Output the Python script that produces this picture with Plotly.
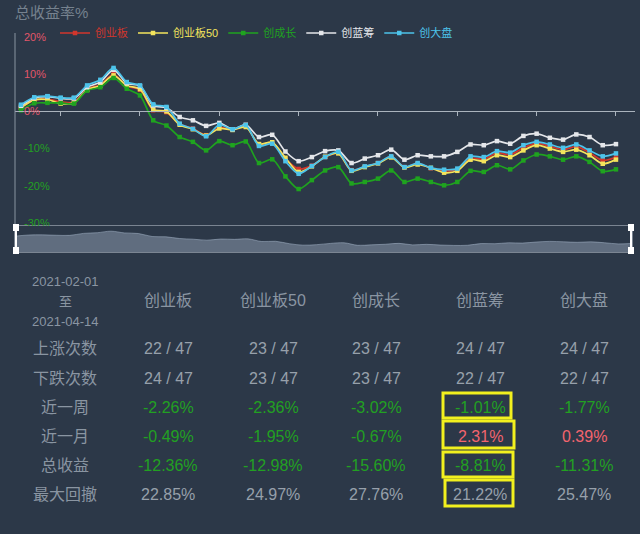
import plotly.graph_objects as go

# ---------------- data ----------------
day_index = list(range(46))
s_cyb = [1.0, 3.0, 3.3, 2.6, 2.4, 6.0, 7.2, 10.0, 6.8, 5.8, 0.3, -0.2, -3.4, -4.6, -6.4, -4.3, -4.9, -4.0, -8.9, -8.4,
         -12.8, -15.5, -14.6, -12.3, -11.2, -15.8, -14.9, -13.9, -12.2, -15.0, -14.0, -15.3, -16.0, -15.7, -12.6, -12.9,
         -11.2, -11.7, -9.8, -8.6, -9.4, -10.3, -9.5, -11.1, -13.2, -12.36]
s_cyb50 = [1.0, 3.1, 3.2, 2.1, 2.3, 5.8, 7.0, 9.7, 7.0, 6.0, 0.5, 0.0, -3.6, -4.8, -6.5, -4.6, -5.0, -4.2, -8.8, -8.3,
           -12.5, -16.3, -14.8, -12.2, -11.3, -16.0, -15.0, -14.0, -12.4, -15.1, -14.3, -15.2, -16.5, -16.0, -13.0, -13.4,
           -11.8, -12.3, -10.5, -9.1, -10.0, -10.9, -10.3, -11.8, -14.1, -12.98]
s_ccz = [0.3, 2.2, 2.3, 2.3, 2.1, 5.6, 6.5, 9.0, 6.1, 4.3, -2.4, -3.8, -6.9, -8.2, -10.5, -8.0, -9.1, -8.1, -13.9, -12.9,
         -17.5, -20.9, -18.5, -15.9, -15.0, -19.4, -19.0, -18.1, -15.9, -19.0, -18.1, -19.0, -19.9, -19.0, -16.0, -16.3,
         -14.5, -15.6, -13.2, -11.6, -12.1, -13.0, -12.1, -13.6, -16.1, -15.6]
s_clc = [1.5, 3.6, 4.0, 3.5, 3.5, 6.5, 7.9, 11.2, 7.6, 6.8, 1.6, 1.0, -1.5, -2.4, -3.9, -3.1, -4.8, -3.6, -6.9, -6.3,
         -10.8, -13.4, -12.3, -10.7, -10.5, -13.9, -12.7, -11.8, -10.3, -13.0, -11.8, -12.1, -12.1, -10.9, -8.9, -9.1,
         -8.0, -8.7, -6.6, -6.0, -7.1, -7.6, -6.2, -6.9, -9.1, -8.81]
s_cdp = [1.8, 3.8, 4.1, 3.7, 3.7, 7.0, 8.5, 11.7, 7.9, 7.0, 1.9, 1.2, -3.3, -4.7, -6.7, -3.6, -4.8, -3.7, -9.3, -8.7,
         -13.4, -16.8, -14.7, -12.3, -10.9, -15.9, -14.8, -13.9, -12.1, -15.0, -13.9, -15.2, -15.7, -15.4, -12.1, -12.3,
         -10.7, -11.1, -9.1, -8.2, -8.9, -9.8, -8.9, -10.5, -12.1, -11.31]

series_names = ["创业板", "创业板50", "创成长", "创蓝筹", "创大盘"]
series_values = [s_cyb, s_cyb50, s_ccz, s_clc, s_cdp]
series_colors = ["#d2362c", "#f3e45c", "#1fa31f", "#e4e6ea", "#4cc3ea"]

y_tick_vals = [20, 10, 0, -10, -20, -30]
x_tick_vals = [3, 9, 15, 21, 27, 33, 39, 45]

period_start = "2021-02-01"
period_mid = "至"
period_end = "2021-04-14"
row_labels = ["上涨次数", "下跌次数", "近一周", "近一月", "总收益", "最大回撤"]
total_days = 47
up_days = [22, 23, 23, 24, 24]
down_days = [24, 23, 23, 22, 22]
ret_week = [-2.26, -2.36, -3.02, -1.01, -1.77]
ret_month = [-0.49, -1.95, -0.67, 2.31, 0.39]
ret_total = [-12.36, -12.98, -15.60, -8.81, -11.31]
max_drawdown = [22.85, 24.97, 27.76, 21.22, 25.47]
highlight_rows = [2, 3, 4, 5]

# ---------------- layout helpers ----------------
W, H = 640, 534
BG = "#2c3848"
GRAY = "#8a95a2"
VAL_GRAY = "#97a0ab"
GREEN = "#22a022"
RED = "#f2646e"


def fx(px):
    return px / W


def fy(py):
    return 1 - py / H


# y scale: 0% at 111.4 px, 3.714 px per 1%
plot_top, plot_bot = 24, 232
yr = [-32.47, 23.53]
xr = [-0.454, 46.44]
y_dom = [fy(plot_bot), fy(plot_top)]
zero_pos = y_dom[0] + (0 - yr[0]) / (yr[1] - yr[0]) * (y_dom[1] - y_dom[0])

fig = go.Figure()

for name, vals, col in zip(series_names, series_values, series_colors):
    fig.add_trace(go.Scatter(
        x=day_index, y=vals, mode="lines+markers",
        name=f'<span style="color:{col}">{name}</span>',
        line=dict(color=col, width=1.7, shape="spline", smoothing=0.8),
        marker=dict(color=col, size=4.5, symbol="square"),
        xaxis="x", yaxis="y", hoverinfo="skip",
    ))

# data-zoom shadow (first series)
sh_lo = min(s_cyb) - 12
sh_hi = max(s_cyb) + 9.5
fig.add_trace(go.Scatter(x=day_index, y=[sh_lo] * len(day_index), mode="lines",
                         line=dict(width=0, color="rgba(0,0,0,0)"), showlegend=False,
                         xaxis="x2", yaxis="y2", hoverinfo="skip"))
fig.add_trace(go.Scatter(x=day_index, y=s_cyb, mode="lines", fill="tonexty",
                         fillcolor="rgba(160,175,195,0.45)",
                         line=dict(width=1, color="rgba(170,185,205,0.5)", shape="spline"),
                         showlegend=False, xaxis="x2", yaxis="y2", hoverinfo="skip"))

tick_text = []
for v in y_tick_vals:
    c = "#e2566a" if v >= 0 else GREEN
    tick_text.append(f'<span style="color:{c}">{v}%</span>')

shapes = []
# y axis line
shapes.append(dict(type="line", xref="paper", yref="paper", x0=fx(15), x1=fx(15), y0=fy(227), y1=fy(33),
                   line=dict(color="#8894a0", width=1)))
# slider box
sx0, sx1, sy0, sy1 = 15, 632, 226, 252
shapes.append(dict(type="rect", xref="paper", yref="paper", x0=fx(sx0), x1=fx(sx1), y0=fy(sy1), y1=fy(sy0),
                   line=dict(color="#c9d1db", width=1), fillcolor="rgba(105,120,142,0.45)", layer="below"))
for hx in (sx0 + 1, sx1 - 1):
    shapes.append(dict(type="line", xref="paper", yref="paper", x0=fx(hx), x1=fx(hx), y0=fy(sy1), y1=fy(sy0),
                       line=dict(color="#ffffff", width=2)))
    for hy0, hy1 in ((sy0 - 2, sy0 + 5), (sy1 - 5, sy1 + 2)):
        shapes.append(dict(type="rect", xref="paper", yref="paper", x0=fx(hx - 3), x1=fx(hx + 3),
                           y0=fy(hy1), y1=fy(hy0), line=dict(width=0), fillcolor="#ffffff"))

annotations = []
annotations.append(dict(text="总收益率%", x=fx(13), y=fy(13), xref="paper", yref="paper", xanchor="left",
                        yanchor="middle", showarrow=False, font=dict(size=15, color="#76828f")))

# table
col_x = [168, 273, 376, 480, 584]
label_x = 65
row_y = [348, 378, 407, 436, 465, 494]
FONT = "Liberation Sans, Arial, Noto Sans CJK SC, sans-serif"


def add_text(t, x, y, size, color):
    annotations.append(dict(text=t, x=fx(x), y=fy(y), xref="paper", yref="paper", xanchor="center",
                            yanchor="middle", showarrow=False, font=dict(size=size, color=color, family=FONT)))


add_text(period_start, label_x, 281, 13, GRAY)
add_text(period_mid, label_x, 301, 13, GRAY)
add_text(period_end, label_x, 321, 13, GRAY)
for name, cx in zip(series_names, col_x):
    add_text(name, cx, 300, 16, GRAY)
for lbl, ry in zip(row_labels, row_y):
    add_text(lbl, label_x, ry, 16, GRAY)


def pct_color(v):
    return RED if v > 0 else GREEN


for j, cx in enumerate(col_x):
    add_text(f"{up_days[j]} / {total_days}", cx, row_y[0], 16, VAL_GRAY)
    add_text(f"{down_days[j]} / {total_days}", cx, row_y[1], 16, VAL_GRAY)
    add_text(f"{ret_week[j]:.2f}%", cx, row_y[2], 16, pct_color(ret_week[j]))
    add_text(f"{ret_month[j]:.2f}%", cx, row_y[3], 16, pct_color(ret_month[j]))
    add_text(f"{ret_total[j]:.2f}%", cx, row_y[4], 16, pct_color(ret_total[j]))
    add_text(f"{max_drawdown[j]:.2f}%", cx, row_y[5], 16, VAL_GRAY)

# yellow highlight boxes
box_px = [(443, 511, 393, 418), (443, 514, 421, 448), (443, 513, 452, 477), (445, 513, 480, 506)]
for (bx0, bx1, by0, by1), r in zip(box_px, highlight_rows):
    shapes.append(dict(type="rect", xref="paper", yref="paper", x0=fx(bx0), x1=fx(bx1), y0=fy(by1), y1=fy(by0),
                       line=dict(color="#f2f01e", width=3), fillcolor="rgba(0,0,0,0)"))

fig.update_layout(
    width=W, height=H,
    margin=dict(l=0, r=0, t=0, b=0),
    paper_bgcolor=BG, plot_bgcolor=BG,
    font=dict(family=FONT, color=GRAY),
    showlegend=True,
    legend=dict(orientation="h", x=fx(55), y=fy(33), xanchor="left", yanchor="middle",
                bgcolor="rgba(0,0,0,0)", font=dict(size=11), itemwidth=30,
                traceorder="normal", tracegroupgap=0),
    xaxis=dict(domain=[fx(15), fx(635)], range=xr, anchor="free", position=zero_pos,
               showline=True, linecolor="#aab3bd", linewidth=1, ticks="outside", ticklen=4,
               tickcolor="#aab3bd", tickvals=x_tick_vals, showticklabels=False,
               showgrid=False, zeroline=False, fixedrange=True),
    yaxis=dict(domain=y_dom, range=yr, anchor="x", showline=False,
               showgrid=False, zeroline=False, tickvals=y_tick_vals, ticktext=tick_text,
               ticklabelposition="inside", ticks="", ticklabelstandoff=6,
               tickfont=dict(size=11), fixedrange=True),
    xaxis2=dict(domain=[fx(sx0), fx(sx1)], range=[0, 45], anchor="y2", visible=False, fixedrange=True),
    yaxis2=dict(domain=[fy(sy1), fy(sy0)], range=[sh_lo, sh_hi], anchor="x2", visible=False, fixedrange=True),
    shapes=shapes,
    annotations=annotations,
)

fig.write_html("out.html", config={"displayModeBar": False},
               post_script="document.body.style.margin='0';")
